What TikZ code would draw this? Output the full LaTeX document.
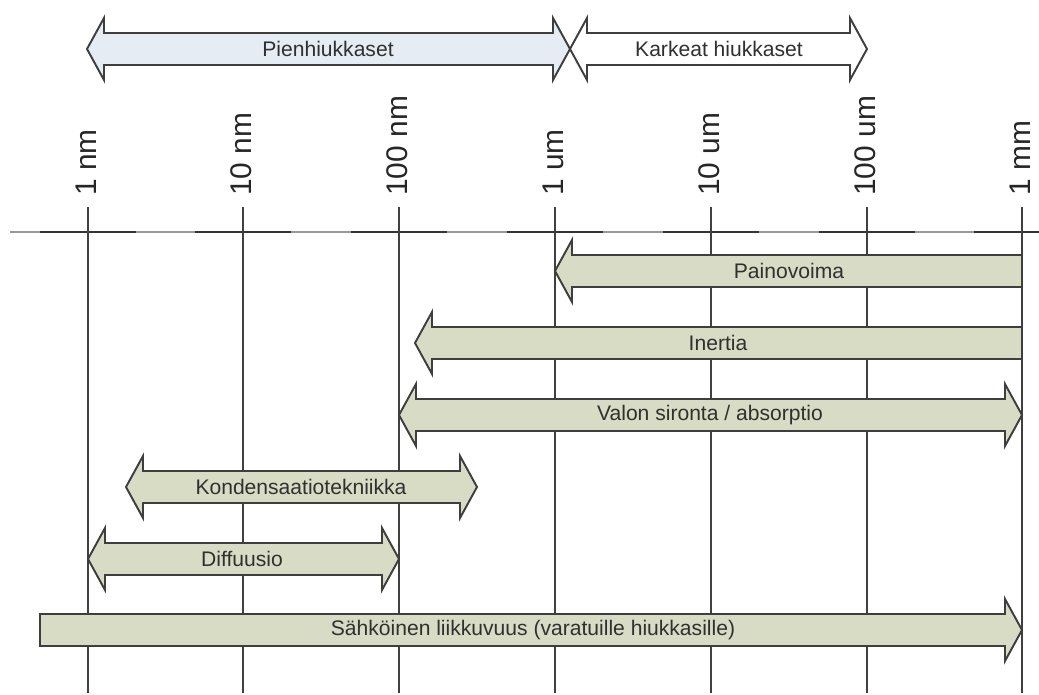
\documentclass[tikz,border=0pt]{standalone}
\usepackage{fontspec}
\setmainfont{Liberation Sans}
\usepackage{tikz}
\definecolor{bandfill}{RGB}{217,220,197}
\definecolor{finefill}{RGB}{229,236,244}
\definecolor{edgegray}{RGB}{62,62,62}
\definecolor{textgray}{RGB}{48,48,48}
\tikzset{
    band/.style={draw=edgegray,line width=1.1pt,line join=miter},
    bandtext/.style={text=textgray,inner sep=0pt,font=\fontsize{12}{14}\selectfont},
    sizelabel/.style={rotate=90,anchor=west,inner sep=0pt,text=black!85,font=\fontsize{17}{20}\selectfont},
    gridline/.style={line width=1.1pt,draw=black!75},
}

\begin{document}
\begin{tikzpicture}[x=0.02cm,y=-0.02cm]
    \useasboundingbox (0,0) rectangle (1039,695);

    % size axis
    \draw[line width=0.8pt,black!40] (10,232) -- (1039,232);
    \foreach \x/\t/\nm in {88/1 nm/nmA,243/10 nm/nmB,399/100 nm/nmC,555/1 um/umA,711/10 um/umB,867/100 um/umC,1022/1 mm/mmA}
    {
        \draw[line width=1.7pt,black!80] (\x-48,232) -- (\x+48,232);
        \draw[gridline] (\x,207) -- (\x,693);
        \node[sizelabel] (\nm) at (\x-2,196) {\t};
    }

    % double arrows
    \foreach \xa/\xb/\yc/\xt/\col/\nm/\txt in {87/570/49/328/finefill/pien/Pienhiukkaset,
        570/867/49/719/white/karkea/Karkeat hiukkaset,
        399/1022/415/710/bandfill/valo/{Valon sironta / absorptio},
        126/477/487/301/bandfill/kond/Kondensaatiotekniikka,
        88/399/559/242/bandfill/diff/Diffuusio}
    {
        \draw[band,fill=\col] (\xa,\yc) -- (\xa+17,\yc-31) -- (\xa+17,\yc-16) -- (\xb-17,\yc-16)
            -- (\xb-17,\yc-31) -- (\xb,\yc) -- (\xb-17,\yc+31) -- (\xb-17,\yc+16)
            -- (\xa+17,\yc+16) -- (\xa+17,\yc+31) -- cycle;
        \node[bandtext] (\nm) at (\xt,\yc) {\txt};
    }

    % arrows pointing left
    \foreach \xa/\xb/\yc/\xt/\nm/\txt in {555/1022/271/789/paino/Painovoima,
        415/1022/343/718/inertia/Inertia}
    {
        \draw[band,fill=bandfill] (\xa,\yc) -- (\xa+17,\yc-31) -- (\xa+17,\yc-16) -- (\xb,\yc-16)
            -- (\xb,\yc+16) -- (\xa+17,\yc+16) -- (\xa+17,\yc+31) -- cycle;
        \node[bandtext] (\nm) at (\xt,\yc) {\txt};
    }

    % arrow pointing right
    \draw[band,fill=bandfill] (40,614) -- (1005,614) -- (1005,599) -- (1022,630) -- (1005,661)
        -- (1005,646) -- (40,646) -- cycle;
    \node[bandtext] (sahko) at (533,630) {Sähköinen liikkuvuus (varatuille hiukkasille)};
\end{tikzpicture}
\end{document}
